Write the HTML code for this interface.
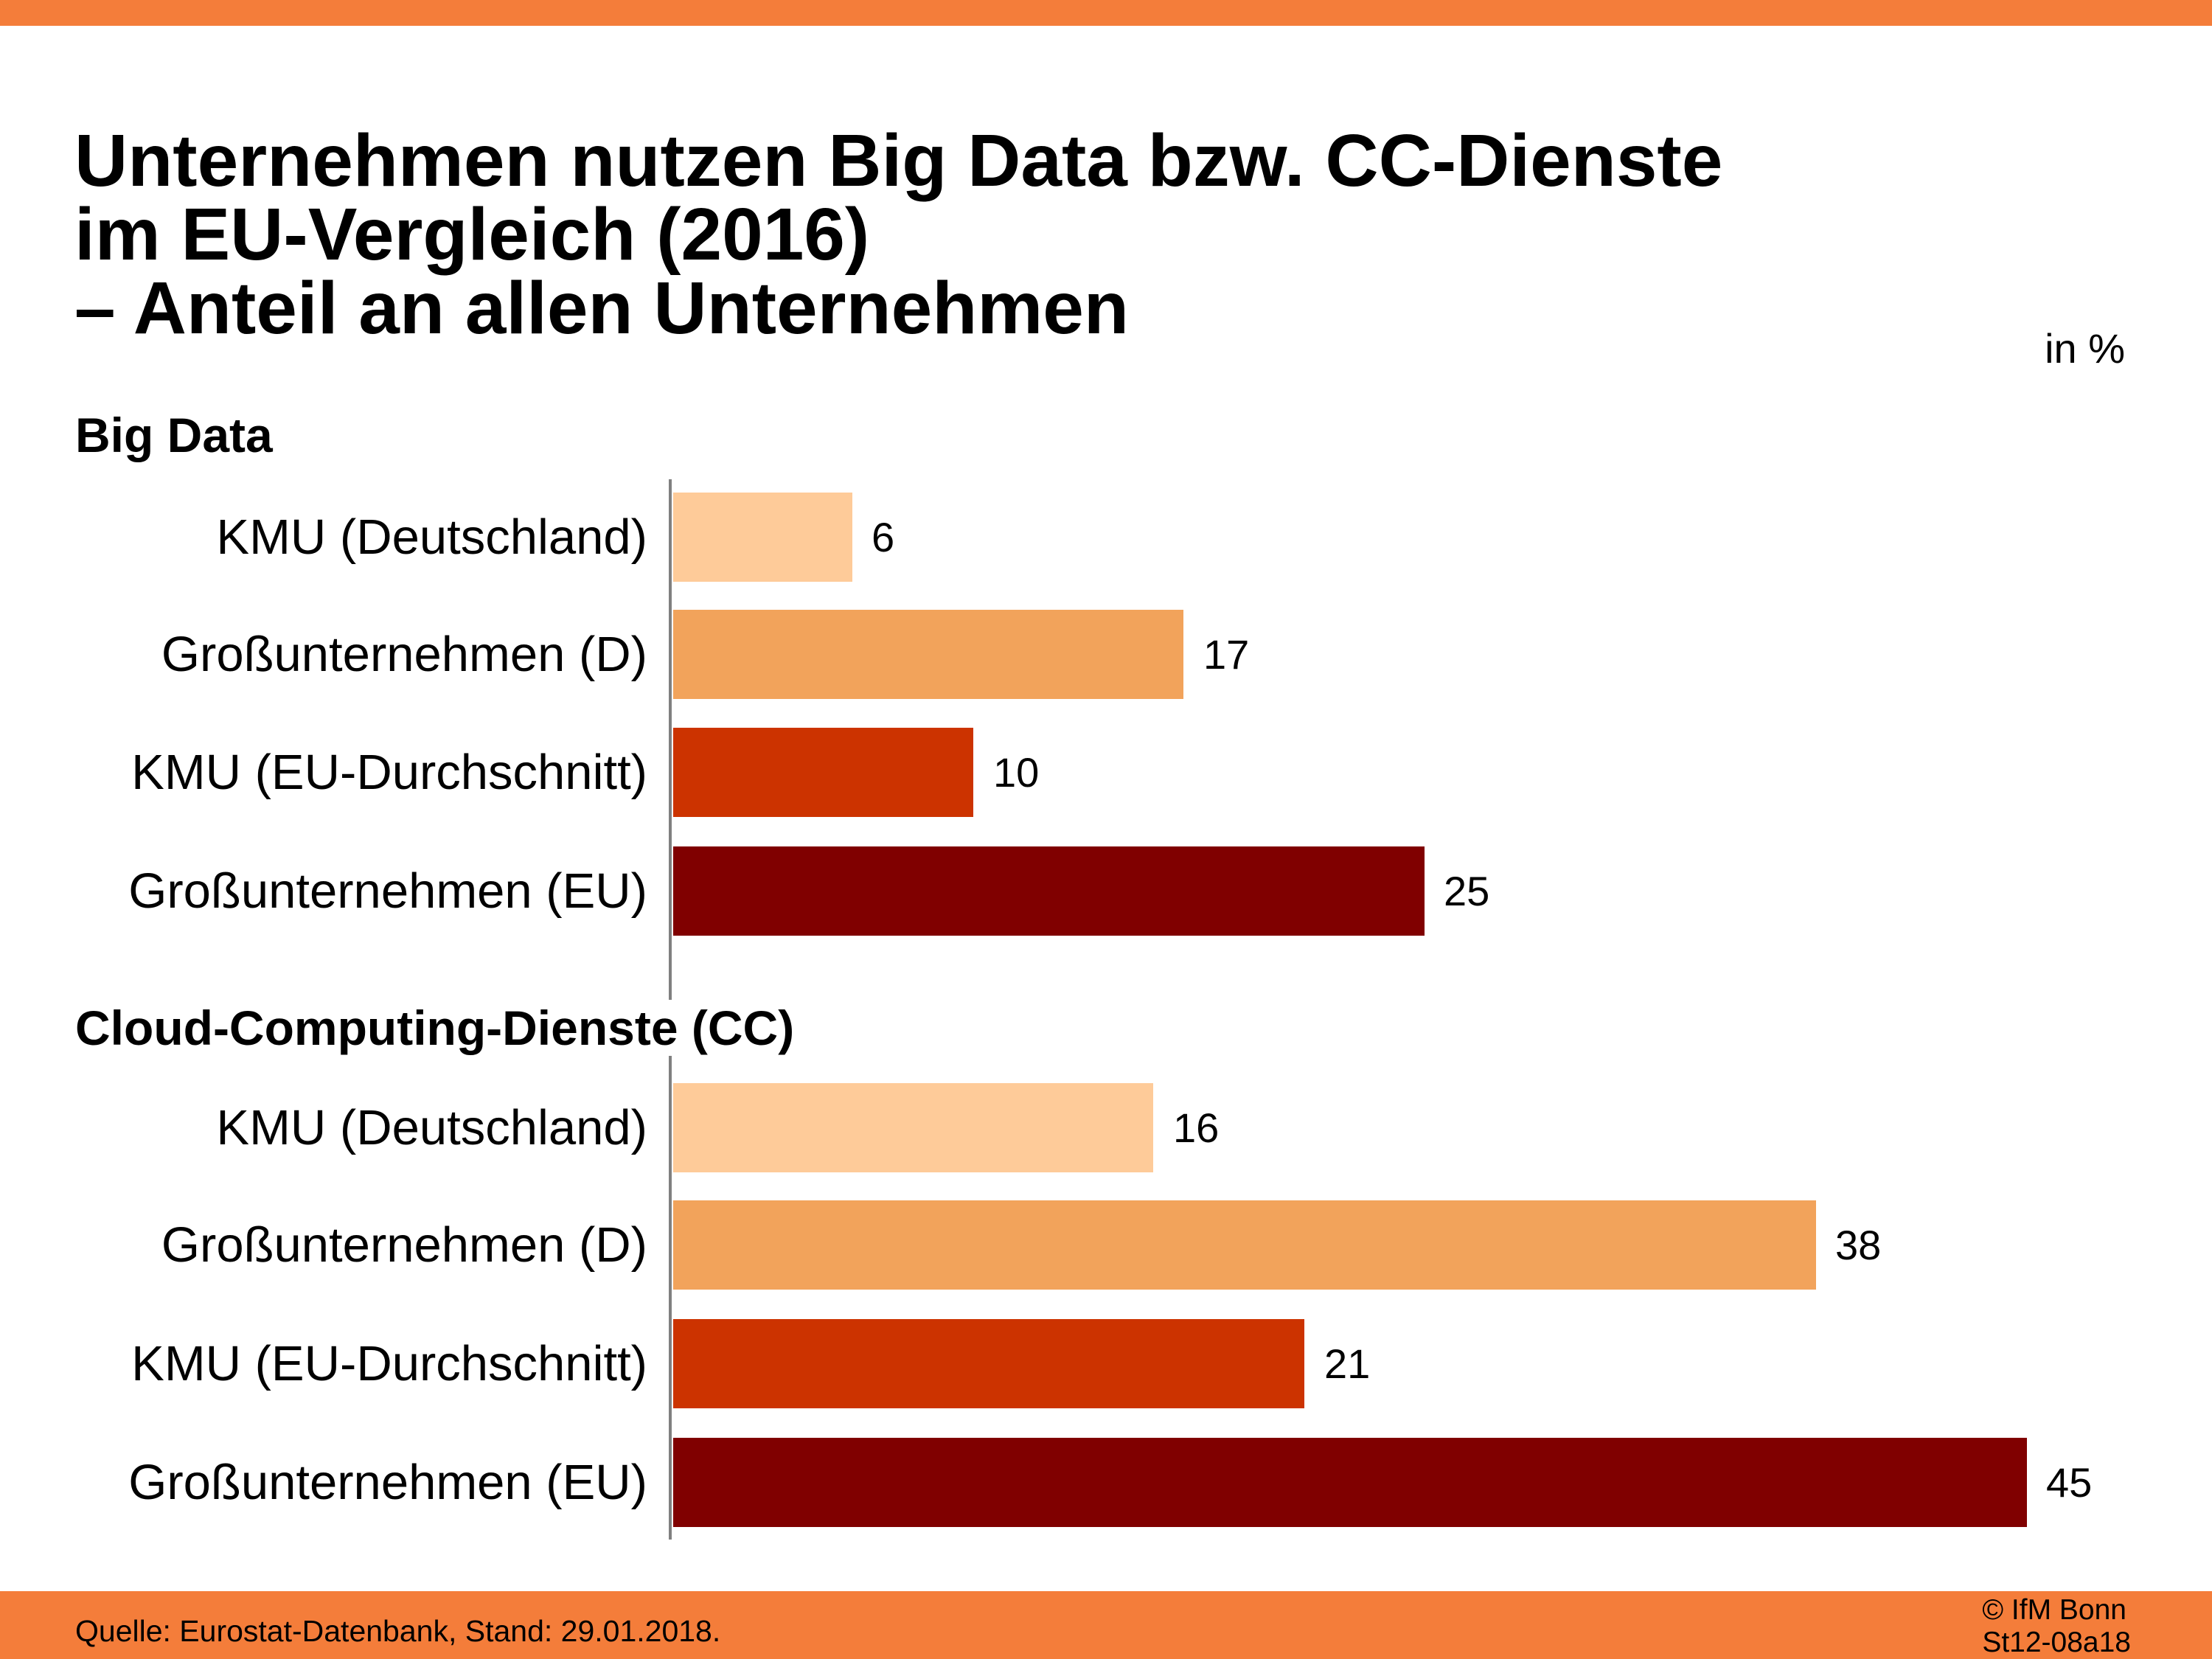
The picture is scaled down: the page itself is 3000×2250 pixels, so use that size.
<!DOCTYPE html>
<html><head><meta charset="utf-8"><style>
body{margin:0;width:3000px;height:2250px;background:#fff;position:relative;overflow:hidden;font-family:"Liberation Sans",Arial,sans-serif;color:#000}
.a{position:absolute}
.title{left:101px;top:168px;font-size:100px;font-weight:bold;line-height:100px;white-space:nowrap}
.lab{position:absolute;right:2122px;font-size:67px;height:121px;line-height:121px;white-space:nowrap;text-align:right}
.bar{position:absolute;left:913px;height:121px}
.val{position:absolute;font-size:56px;height:121px;line-height:121px}
.sec{position:absolute;left:102px;font-size:66px;font-weight:bold;white-space:nowrap;background:#fff;z-index:2;padding-right:4px}
</style></head><body>
<div class="a" style="left:0;top:0;width:3000px;height:35px;background:#F47D3A"></div>
<div class="a title">Unternehmen nutzen Big Data bzw. CC-Dienste<br>im EU-Vergleich (2016)<br>– Anteil an allen Unternehmen</div>
<div class="a" style="right:118px;top:440px;font-size:56px">in %</div>
<div class="sec" style="top:552px">Big Data</div>
<div class="sec" style="top:1356px">Cloud-Computing-Dienste (CC)</div>
<div class="a" style="left:907px;top:650px;width:4px;height:1438px;background:#808080"></div>

<div class="lab" style="top:668px">KMU (Deutschland)</div>
<div class="bar" style="top:668px;width:243px;background:#FECB99"></div>
<div class="val" style="top:668px;left:1182px">6</div>
<div class="lab" style="top:827px">Großunternehmen (D)</div>
<div class="bar" style="top:827px;width:692px;background:#F2A35B"></div>
<div class="val" style="top:827px;left:1632px">17</div>
<div class="lab" style="top:987px">KMU (EU-Durchschnitt)</div>
<div class="bar" style="top:987px;width:407px;background:#CC3300"></div>
<div class="val" style="top:987px;left:1347px">10</div>
<div class="lab" style="top:1148px">Großunternehmen (EU)</div>
<div class="bar" style="top:1148px;width:1019px;background:#800000"></div>
<div class="val" style="top:1148px;left:1958px">25</div>

<div class="lab" style="top:1469px">KMU (Deutschland)</div>
<div class="bar" style="top:1469px;width:651px;background:#FECB99"></div>
<div class="val" style="top:1469px;left:1591px">16</div>
<div class="lab" style="top:1628px">Großunternehmen (D)</div>
<div class="bar" style="top:1628px;width:1550px;background:#F2A35B"></div>
<div class="val" style="top:1628px;left:2489px">38</div>
<div class="lab" style="top:1789px">KMU (EU-Durchschnitt)</div>
<div class="bar" style="top:1789px;width:856px;background:#CC3300"></div>
<div class="val" style="top:1789px;left:1796px">21</div>
<div class="lab" style="top:1950px">Großunternehmen (EU)</div>
<div class="bar" style="top:1950px;width:1836px;background:#800000"></div>
<div class="val" style="top:1950px;left:2775px">45</div>

<div class="a" style="left:0;top:2158px;width:3000px;height:92px;background:#F47D3A"></div>
<div class="a" style="left:102px;top:2189px;font-size:41px">Quelle: Eurostat-Datenbank, Stand: 29.01.2018.</div>
<div class="a" style="right:110px;top:2162px;font-size:39px;line-height:44px;text-align:left">© IfM Bonn<br>St12-08a18</div>
</body></html>
